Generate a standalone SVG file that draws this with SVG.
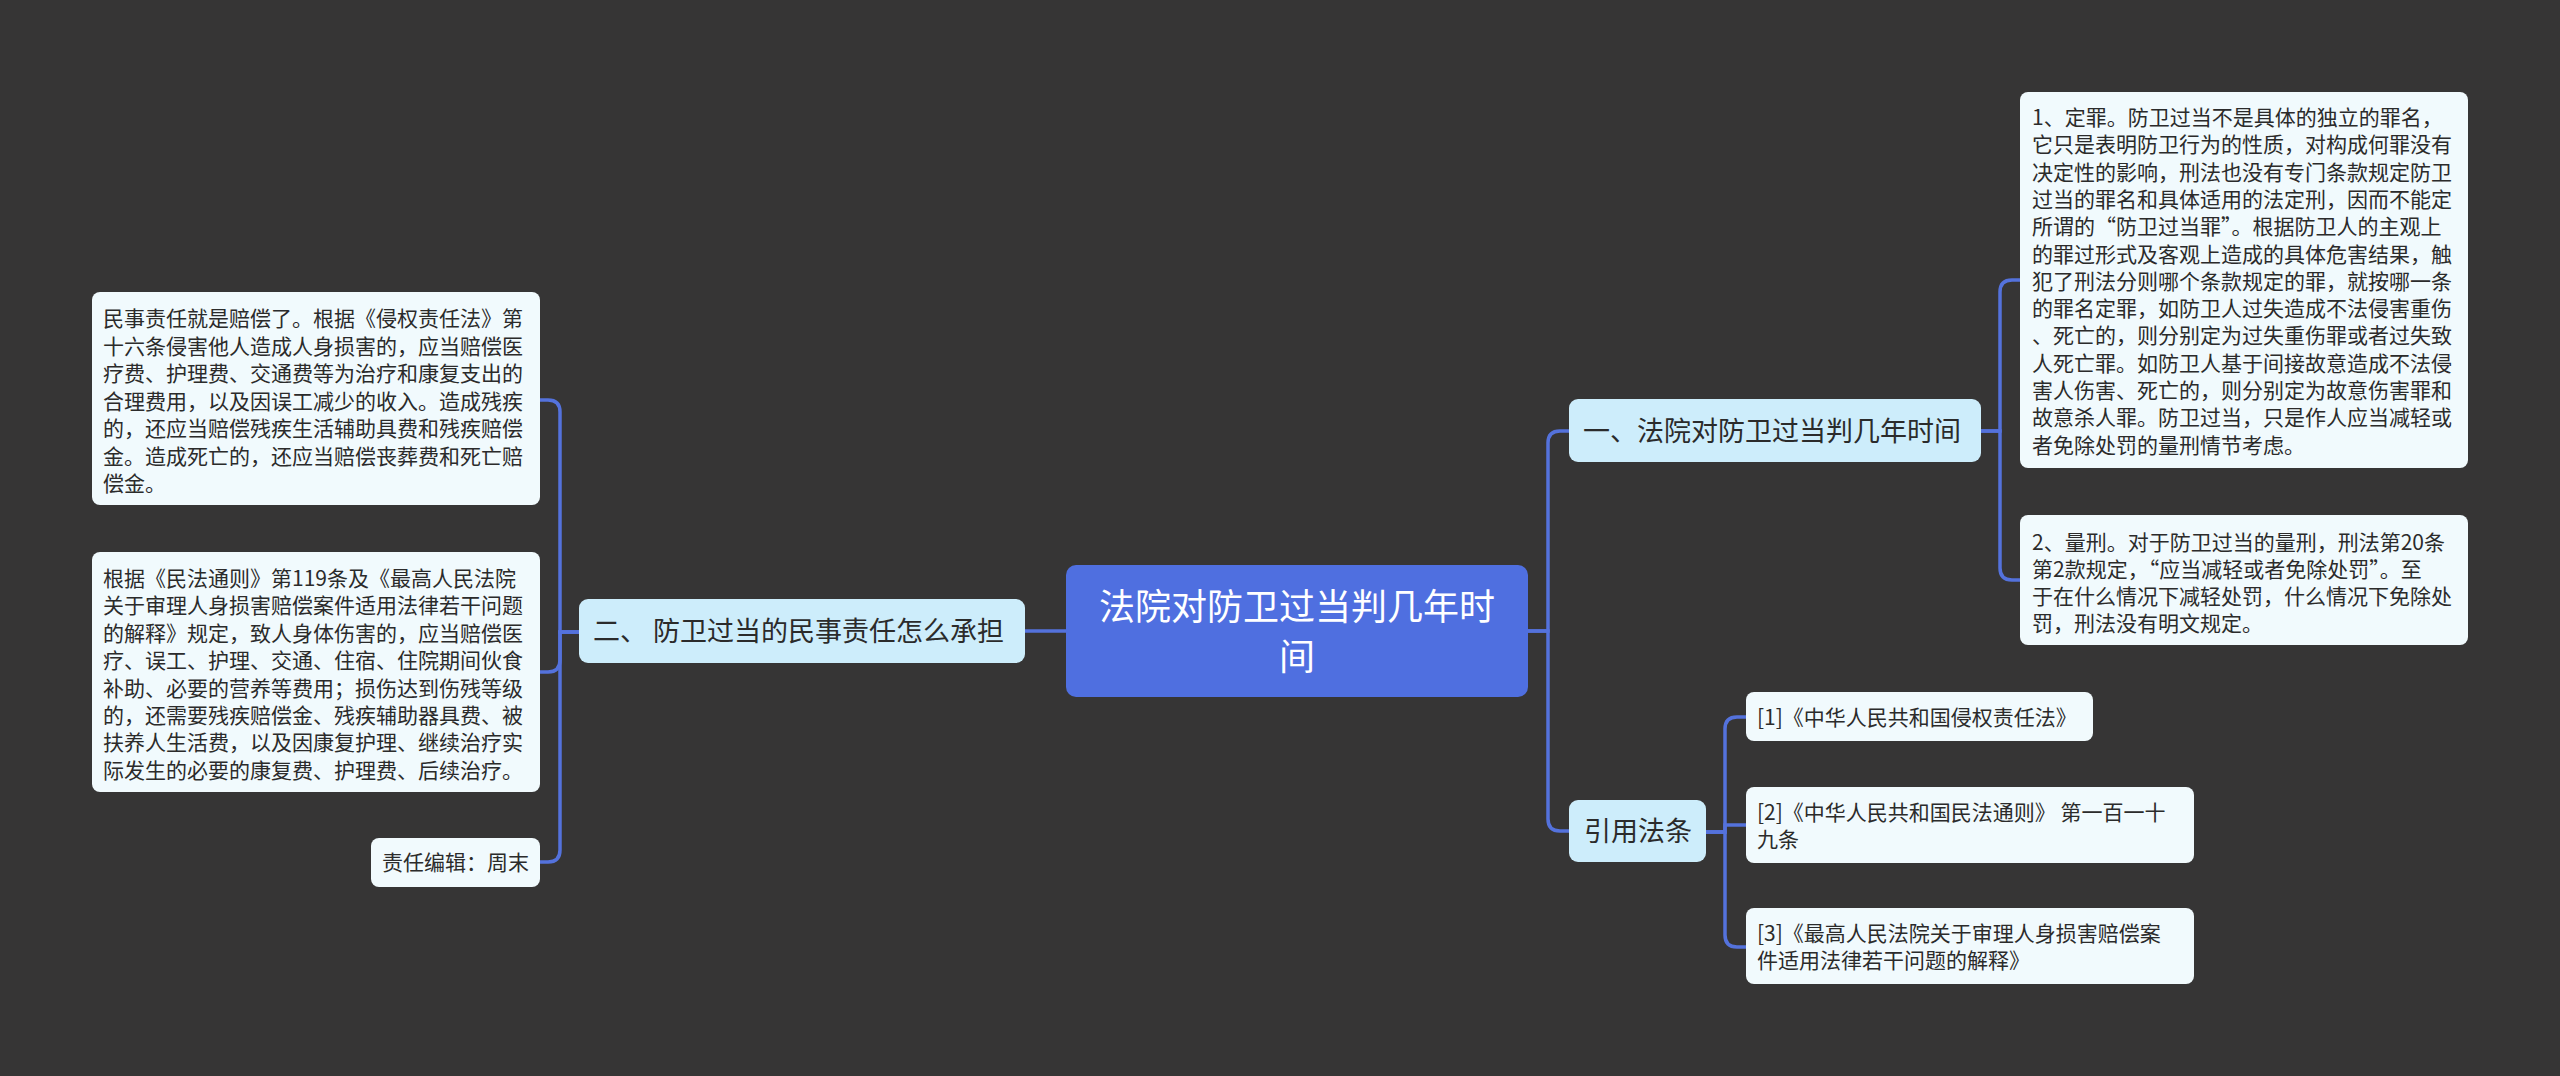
<svg xmlns="http://www.w3.org/2000/svg" width="2560" height="1076" viewBox="0 0 2560 1076" xml:lang="zh-CN" lang="zh-CN">
<style>
.bg{fill:#363535}
.ln{fill:none;stroke:#5472dc;stroke-width:3.5;stroke-linecap:round}
.root rect{fill:#4f6fe0}
.root text{fill:#ffffff;font-size:36px;text-anchor:middle}
.br rect{fill:#cdedfb}
.br text{fill:#2b2b2b;font-size:27px}
.lf rect{fill:#f1fafd}
.lf text{fill:#2b2b2b;font-size:21px}
text{font-family:"Noto Sans CJK SC","Noto Sans",sans-serif}
</style>
<rect class="bg" x="0" y="0" width="2560" height="1076"/>
<g id="connectors">
<path class="ln" d="M1528,631 H1548 V443 Q1548,431 1560,431 H1569"/>
<path class="ln" d="M1528,631 H1548 V819 Q1548,831 1560,831 H1569"/>
<path class="ln" d="M1066,631 H1025"/>
<path class="ln" d="M579,632 H560 V412 Q560,400 548,400 H540"/>
<path class="ln" d="M579,632 H560 V660 Q560,672 548,672 H540"/>
<path class="ln" d="M579,632 H560 V850 Q560,862 548,862 H540"/>
<path class="ln" d="M1981,431 H2000 V292 Q2000,280 2012,280 H2020"/>
<path class="ln" d="M1981,431 H2000 V568 Q2000,580 2012,580 H2020"/>
<path class="ln" d="M1706,832 H1725 V729 Q1725,717 1737,717 H1746"/>
<path class="ln" d="M1706,832 H1725 V825 H1746"/>
<path class="ln" d="M1706,832 H1725 V935 Q1725,947 1737,947 H1746"/>
</g>
<g id="root" class="root">
<rect x="1066" y="565" width="462" height="132" rx="10"/>
<text x="1297" y="620">法院对防卫过当判几年时</text>
<text x="1297" y="670">间</text>
</g>
<g id="branch1" class="br">
<rect x="1569" y="399" width="412" height="63" rx="9"/>
<text x="1583" y="441">一、法院对防卫过当判几年时间</text>
</g>
<g id="branch2" class="br">
<rect x="579" y="599" width="446" height="64" rx="9"/>
<text x="593" y="641">二、 防卫过当的民事责任怎么承担</text>
</g>
<g id="branch3" class="br">
<rect x="1569" y="800" width="137" height="62" rx="9"/>
<text x="1584" y="841">引用法条</text>
</g>
<g id="leafA" class="lf">
<rect x="92" y="292" width="448" height="213" rx="8"/>
<text x="103" y="326"><tspan x="103">民事责任就是赔偿了。根据《侵权责任法》第</tspan><tspan x="103" dy="27.5">十六条侵害他人造成人身损害的，应当赔偿医</tspan><tspan x="103" dy="27.5">疗费、护理费、交通费等为治疗和康复支出的</tspan><tspan x="103" dy="27.5">合理费用，以及因误工减少的收入。造成残疾</tspan><tspan x="103" dy="27.5">的，还应当赔偿残疾生活辅助具费和残疾赔偿</tspan><tspan x="103" dy="27.5">金。造成死亡的，还应当赔偿丧葬费和死亡赔</tspan><tspan x="103" dy="27.5">偿金。</tspan></text>
</g>
<g id="leafB" class="lf">
<rect x="92" y="552" width="448" height="240" rx="8"/>
<text x="103" y="586"><tspan x="103">根据《民法通则》第119条及《最高人民法院</tspan><tspan x="103" dy="27.4">关于审理人身损害赔偿案件适用法律若干问题</tspan><tspan x="103" dy="27.4">的解释》规定，致人身体伤害的，应当赔偿医</tspan><tspan x="103" dy="27.4">疗、误工、护理、交通、住宿、住院期间伙食</tspan><tspan x="103" dy="27.4">补助、必要的营养等费用；损伤达到伤残等级</tspan><tspan x="103" dy="27.4">的，还需要残疾赔偿金、残疾辅助器具费、被</tspan><tspan x="103" dy="27.4">扶养人生活费，以及因康复护理、继续治疗实</tspan><tspan x="103" dy="27.4">际发生的必要的康复费、护理费、后续治疗。</tspan></text>
</g>
<g id="leafC" class="lf">
<rect x="371" y="838" width="169" height="49" rx="8"/>
<text x="382" y="870">责任编辑：周末</text>
</g>
<g id="leafR1" class="lf">
<rect x="2020" y="92" width="448" height="376" rx="8"/>
<text x="2032" y="125"><tspan x="2032">1、定罪。防卫过当不是具体的独立的罪名，</tspan><tspan x="2032" dy="27.3">它只是表明防卫行为的性质，对构成何罪没有</tspan><tspan x="2032" dy="27.3">决定性的影响，刑法也没有专门条款规定防卫</tspan><tspan x="2032" dy="27.3">过当的罪名和具体适用的法定刑，因而不能定</tspan><tspan x="2032" dy="27.3">所谓的“防卫过当罪”。根据防卫人的主观上</tspan><tspan x="2032" dy="27.3">的罪过形式及客观上造成的具体危害结果，触</tspan><tspan x="2032" dy="27.3">犯了刑法分则哪个条款规定的罪，就按哪一条</tspan><tspan x="2032" dy="27.3">的罪名定罪，如防卫人过失造成不法侵害重伤</tspan><tspan x="2032" dy="27.3">、死亡的，则分别定为过失重伤罪或者过失致</tspan><tspan x="2032" dy="27.3">人死亡罪。如防卫人基于间接故意造成不法侵</tspan><tspan x="2032" dy="27.3">害人伤害、死亡的，则分别定为故意伤害罪和</tspan><tspan x="2032" dy="27.3">故意杀人罪。防卫过当，只是作人应当减轻或</tspan><tspan x="2032" dy="27.3">者免除处罚的量刑情节考虑。</tspan></text>
</g>
<g id="leafR2" class="lf">
<rect x="2020" y="515" width="448" height="130" rx="8"/>
<text x="2032" y="550"><tspan x="2032">2、量刑。对于防卫过当的量刑，刑法第20条</tspan><tspan x="2032" dy="27">第2款规定，“应当减轻或者免除处罚”。至</tspan><tspan x="2032" dy="27">于在什么情况下减轻处罚，什么情况下免除处</tspan><tspan x="2032" dy="27">罚，刑法没有明文规定。</tspan></text>
</g>
<g id="ref1" class="lf">
<rect x="1746" y="692" width="347" height="49" rx="8"/>
<text x="1757" y="725">[1]《中华人民共和国侵权责任法》</text>
</g>
<g id="ref2" class="lf">
<rect x="1746" y="787" width="448" height="76" rx="8"/>
<text x="1757" y="820"><tspan x="1757">[2]《中华人民共和国民法通则》 第一百一十</tspan><tspan x="1757" dy="27">九条</tspan></text>
</g>
<g id="ref3" class="lf">
<rect x="1746" y="908" width="448" height="76" rx="8"/>
<text x="1757" y="941"><tspan x="1757">[3]《最高人民法院关于审理人身损害赔偿案</tspan><tspan x="1757" dy="27">件适用法律若干问题的解释》</tspan></text>
</g>
</svg>
